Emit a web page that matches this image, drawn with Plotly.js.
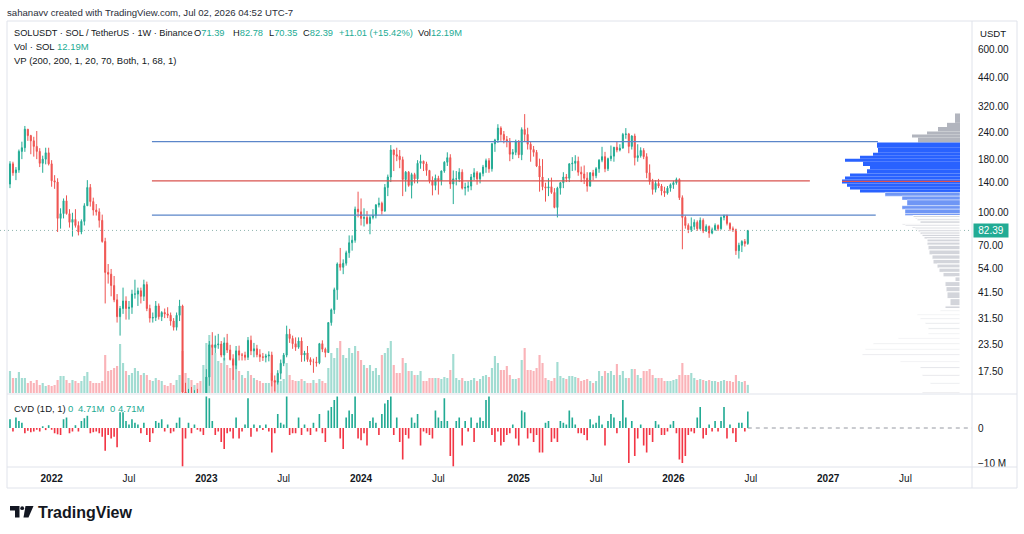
<!DOCTYPE html>
<html>
<head>
<meta charset="utf-8">
<script src="https://cdn.plot.ly/plotly-3.0.1.min.js"></script>
<style>
html,body{margin:0;padding:0;background:#ffffff;}
#chart{width:1024px;height:534px;}
</style>
</head>
<body>
<div id="chart"></div>
<script>
// ---------------- DATA (weekly SOLUSDT, Binance) ----------------
const firstWeek = '2021-09-27';
const firstOpen = 137;
const closes = [171,155,160,196,204,250,233,220,207,196,
172,180,193,171,142,140,94,99,114,99,
90,93,87,81,91,108,132,113,103,101,
92,73,52,51,45,38.5,32,35,38,35,
35.5,41,41,42.5,40,45.5,35,31.5,31.7,36,
32,33.5,33,32.5,30.5,28.5,32.5,36,14,12.8,
13.7,13.3,13.7,11.4,9.9,10,16.5,23.5,22.8,23.5,
23.7,21,24,22.2,20,18.8,22,21,21,20.5,
24.7,22,22.5,21.1,20.6,20.5,20.8,21,15.9,15.6,
17.2,19.2,21,26.4,25.2,23.8,22.9,24.5,21,21.5,
20,19.5,19.5,19.3,23.8,22.4,21.6,30,34.5,43,
57,55,57.5,64.5,72,74,104,101,94,95,
89,95,97,109,111,102,132,148,199,189,
186,179,144,156,135,152,145,172,176,171,
159,142,135,146,142,158,174,183,137,145,
145,156,131,132,134,148,155,145,154,165,
177,162,213,222,253,236,223,219,190,194,
218,189,249,236,212,200,194,167,148,133,
131,133,125,106,131,139,148,146,171,172,
176,156,153,146,134,155,150,162,178,185,
162,181,186,205,199,203,236,237,207,232,
183,187,198,185,155,141,129,138,134,127,
124,131,136,139,144,118,95,87,83,86,
90,84,92,82,86,80,83,87,84,95,
97,89,84,83,66,70,73,71.39,82.39];
const highs = [176,175,165,200,218,259,250,235,230,245,
203,187,204,204,178,151,146,105,117,121,
104,100,104,91,93,111,143,137,118,110,
105,98,76,57,54,50,41,36,44,40,
38,43,48,44,44,48,47,36.5,33.5,38,
37,34,35,35.5,33.5,31.5,33.5,38.5,36.5,15.5,
14.5,14.8,14.3,14.5,12.2,11.6,18,24.5,27,26,
26.5,24.5,25.5,26.5,23.5,21.2,23.2,23.3,21.5,21.8,
25.6,26,24,23.5,22.4,21.5,21.3,21.9,21.8,16.8,
17.8,20,21.5,29,28,26,25.5,25.5,25.5,22,
23.2,20.5,20.2,20.6,24,24.7,22.8,30,35,44,
58,68,60,66,78,78,107,126,117,105,
102,97,104,110,118,113,137,152,210,200,
204,199,185,158,158,155,155,178,189,177,
175,160,149,152,150,159,176,194,190,159,
158,163,161,139,141,153,163,158,156,169,
181,182,215,225,264,258,245,232,227,201,
223,222,255,295,254,218,208,199,181,180,
139,146,147,131,133,140,156,153,172,184,
188,185,166,168,156,156,160,165,180,206,
195,183,209,206,218,212,240,253,240,234,
238,212,205,203,192,170,145,143,145,137,
133,134,138,142,147,146,121,97,89,95,
93,92,95,94,88,87,85,89,88,96,
98,98,90,86,84,72,74,75,82.78];
const lows = [131,150,143,155,180,195,220,190,185,180,
165,155,170,168,133,130,81,84,94,98,
85,77,85,78,79,87,108,107,97,97,
85,72,37,46,40,37.5,30,26,33,31,
31,33,39,36,37,38,34,30,30,30.5,
31,30.5,31.5,31.5,29,27.5,27.5,30.5,11,12.5,
11.5,12.8,12.8,11,9.6,8,9.7,15,21,21.5,
22.5,20.5,19.8,21.5,19.8,16,18,19.8,19.8,19.8,
19.9,21,20.5,20.5,19.5,19.7,19.4,19.6,14.9,14.1,
15.2,16.1,18.6,20.5,24,22.5,22,22.5,19.5,19.6,
19.5,18.8,17.3,18.5,19,21.7,20.5,21.5,29,33,
38.5,53,51,56,61,66,72,95,87,86,
88,79,93,94,106,98,101,120,140,158,
176,163,120,126,133,117,138,138,162,158,
150,138,121,128,122,135,155,167,130,110,
135,140,129,121,126,128,143,136,138,149,
155,155,157,195,215,220,214,205,176,180,
188,182,178,218,200,175,185,165,126,128,
113,120,123,105,95,122,131,140,140,158,
159,150,140,137,126,133,143,146,155,174,
156,158,176,175,194,196,203,225,192,200,
168,175,183,180,146,136,122,125,131,121,
119,122,126,130,136,115,67,84,80,81,
83,82,83,80,81,76,79,82,82,83,
92,87,82,81,63,60.5,65,69,70.35];
// weekly volume, millions of SOL
const volumes = [33,22.5,22.5,31.5,22.5,22.5,15,18,15,19.5,
12,15,10.5,12,10.5,12,19.5,25.5,25.5,19.5,
15,19.5,18,15,18,25.5,31.5,18,15,15,
15,18,57,33,34.5,37.5,40.5,73.5,45,33,
27,30,37.5,33,27,30,27,19.5,18,22.5,
19.5,18,12,10.5,15,12,19.5,27,63,30,
22.5,19.5,12,15,18,42,75,87,67.5,60,
48,45,52.5,42,37.5,52.5,42,33,27,22.5,
33,27,22.5,19.5,18,15,15,15,30,18,
18,18,21,45,27,19.5,18,18,21,18,
15,15,19.5,15,21,18,15,37.5,60,52.5,
67.5,78,57,52.5,67.5,60,70.5,63,49.5,42,
37.5,42,33,37.5,27,57,60,67.5,78,42,
30,30,52.5,45,33,33,27,27,33,18,
18,22.5,22.5,22.5,22.5,21,24,22.5,34.5,58.5,
22.5,19.5,22.5,18,18,19.5,22.5,18,21,25.5,
27,24,37.5,55.5,45,34.5,34.5,40.5,27,21,
21,22.5,49.5,67.5,34.5,34.5,33,37.5,57,45,
22.5,19.5,18,22.5,46.5,25.5,22.5,21,25.5,25.5,
24,22.5,18,19.5,21,18,15,18,33,25.5,
33,30,33,27,43.5,27,33,22.5,22.5,36,
36,27,22.5,33,33,36,27,22.5,22.5,22.5,
18,18,18,19.5,21,27,45,27,27,30,
22.5,19.5,21,19.5,18,19.5,18,18,16.5,18,
19.5,18,18,16.5,27,18,16.5,18,12.19];
// cumulative volume delta per week, millions
const cvd = [2.5,-1,3,2,1.5,-1.5,-0.8,-1.2,-1,-0.5,
-1,0.5,-0.6,0.8,-0.5,-1.5,-1.8,-2,2.5,3,
-1.5,-1,0.8,-1,2,2.8,3.5,-1.5,-1.2,-1,
-1.5,-2.5,-6.5,-2,-3,-2.5,-5.5,4.5,4.5,2,
1,2.5,1.5,1,-1.5,1.5,-2,-4,-1.5,2,
1.5,2.5,-1,1,-1.5,-1,1.5,3,-11,-3,
1.5,-1.5,1,-0.5,-1,-2,9,8.5,2,-2,
-1,-4,-6,-1.5,-1,-3,3,-3,-1,1,
8.5,-2.5,1,-1,0.8,-0.6,1,-1,-7,-1.5,
4,1.5,1,9,-2,-1.5,-1.5,3,-2,1,
-1,-2,1.5,-1,4,-1.5,-4,5,6,8,
9,-3,-6,3,5,4,9,-3,-3.5,-1.5,
-5,2,3,1.5,-2,4,7,8,9,-2,
3,-4,-9,-2,-3,3,1.5,4,-5,-1,
-1.5,-2,-3,5,3,2,8.5,2,-8,-11,
2,3,-5,2,-1,3,-4,1.5,3,2,
8,9,-2,-4,-1,-5,-4,-2,-1.5,1,
-3,-5,5,4.5,-3,-1.5,-4,-2,-7,-7,
1.5,2,-4,-3,-4,2,1.5,1,5,3,
1,-1.5,-1.5,-2,-3.5,2.5,1,1.5,3.5,1,
-5,2,4,3,-1.5,2,8,3,-10,2,
-8,-3,1,-5,-7,-2,-4,2,1,-2,
-2,-1,1,2,-1.5,-9,-10,-8,-2,-1,
-1.5,3,6,-3,-2,1,-1,2,-1,2,
6,-3,1,-1.5,-4,1.5,1.5,-1,4.71];
// horizontal level drawings
const levelPrices = [218, 142, 97.5];
const levelStart = '2022-08-27';
const levelEnds = ['2027-05-01', '2026-11-22', '2027-04-26'];
// volume profile rows: price low, price high, volume, zone (0 above VA, 1 VA strong, 2 VA light, 3 below VA)
const vpLow  = [268,256,244,236,228,216,204,193,187,181,175,167,161,154,149,144,138,133,129,125,
120,115,108,104,99,97,
95,93.5,91.5,89,87.5,86,84.5,83,81,79,77,75,72.5,70,66.5,63,60,57,54.5,52,49.5,47,44.5,42,39,36,35,
34.0,32.5,31.1,29.5,27.9,26.3,25.1,23.65,22.25,20.95,19.35,18.15,16.68,15.3,13.8];
const vpHigh = [297,268,256,244,236,228,216,204,193,187,181,175,167,161,154,149,144,138,133,129,
125,120,115,108,104,99,
97,95,93.5,91.5,89,87.5,86,84.5,83,81,79,77,75,72.5,70,66.5,63,60,57,54.5,52,49.5,47,44.5,42,39,36,
34.4,32.9,31.5,29.9,28.3,26.7,25.45,23.95,22.55,21.25,19.65,18.45,16.92,15.5,14.0];
const vpVolume = [5,13,22,33,48,42,83,82,87,100,115,97,90,93,110,115,118,113,110,100,
75,58,53,58,55,55,
47,45,43,40,58,55,48,45,42,40,38,36,33,33,32,31,28,27,23,21,17,5,15,14,13,10,15,
20,43,40,35,32,32,62,87,95,98,60,40,38,30,38];
const vpZone = [0,0,0,0,0,0,1,1,1,1,1,1,1,1,1,1,1,1,1,1,
2,2,2,2,2,2,
3,3,3,3,3,3,3,3,3,3,3,3,3,3,3,3,3,3,3,3,3,3,3,3,3,3,3,
3,3,3,3,3,3,3,3,3,3,3,3,3,3,3];
// axis ticks
const xTickDates = ['2022-01-03','2022-07-04','2023-01-02','2023-07-03','2024-01-01','2024-07-01',
  '2025-01-06','2025-07-07','2026-01-05','2026-07-06','2027-01-04','2027-07-05'];
const xTickLabels = ['2022','Jul','2023','Jul','2024','Jul','2025','Jul','2026','Jul','2027','Jul'];
const priceTicks = [600,440,320,240,180,140,100,70,54,41.5,31.5,23.5,17.5];
const cvdTicks = [0,-10];
const cvdTickLabels = ['0','\u221210 M'];

// ---------------- BUILD ----------------
const W = 1024, H = 534;
const GREEN = '#22ab94', RED = '#f23645';
const TXT = '#131722';
const FONT = 'Liberation Sans, Arial, Helvetica, sans-serif';
const DAY = 86400000, WEEK = 7*DAY;
const t0 = Date.parse(firstWeek + 'T00:00:00Z');
const dates = closes.map((_, i) => new Date(t0 + i*WEEK).toISOString().slice(0,10));
const opens = closes.map((c, i) => i === 0 ? firstOpen : closes[i-1]);
const isUp = closes.map((c, i) => c >= opens[i]);
const lastClose = closes[closes.length-1];

const xRange = ['2021-09-03 12:00', '2027-12-08 12:00'];
const priceLo = 13.86, priceHi = 818.6;
const py = p => 1 - p / H;          // pixel row -> paper
const px = p => p / W;              // pixel column -> paper
const xDomEnd = 972 / W;
const priceDomain = [py(393), py(21)];
const cvdDomain = [py(467), py(395)];

const traces = [];
// volume (base axis y)
traces.push({
  type: 'bar', x: dates, y: volumes, xaxis: 'x', yaxis: 'y',
  width: 0.72*WEEK,
  marker: {color: isUp.map(u => u ? 'rgba(34,171,148,0.42)' : 'rgba(242,54,69,0.38)'), line: {width: 0}},
  hoverinfo: 'skip'
});
// candles (log price axis y2)
traces.push({
  type: 'candlestick', x: dates, open: opens, high: highs, low: lows, close: closes,
  xaxis: 'x', yaxis: 'y2', whiskerwidth: 0,
  increasing: {line: {color: GREEN, width: 1}, fillcolor: GREEN},
  decreasing: {line: {color: '#ef5350', width: 1}, fillcolor: '#ef5350'},
  hoverinfo: 'skip'
});
// level lines
const levelColors = ['#5b86c9', '#d9534f', '#5b86c9'];
levelPrices.forEach((p, k) => {
  traces.push({type: 'scatter', mode: 'lines', x: [levelStart, levelEnds[k]], y: [p, p],
    xaxis: 'x', yaxis: 'y2', line: {color: levelColors[k], width: 1.2}, hoverinfo: 'skip'});
});
// last price dotted line
traces.push({type: 'scatter', mode: 'lines', x: xRange, y: [lastClose, lastClose],
  xaxis: 'x', yaxis: 'y2', line: {color: '#8fb5b0', width: 1, dash: '1px,3px'}, hoverinfo: 'skip'});
// CVD bars
traces.push({
  type: 'bar', x: dates, y: cvd, xaxis: 'x', yaxis: 'y3', width: 0.55*WEEK,
  marker: {color: cvd.map(v => v >= 0 ? GREEN : RED), line: {width: 0}}, hoverinfo: 'skip'
});
traces.push({type: 'scatter', mode: 'lines', x: [dates[dates.length-1], xRange[1]], y: [0, 0],
  xaxis: 'x', yaxis: 'y3', line: {color: '#9598a1', width: 1, dash: '4px,4px'}, hoverinfo: 'skip'});
// volume profile (log10 price on a linear overlay axis)
const zoneColors = ['#b2b5be', '#2962ff', '#6f96f5', '#d3d5db'];
const zoneGap = [0, 0, 0.4, 1];
const vpCenter = vpLow.map((lo, k) => (Math.log10(lo) + Math.log10(vpHigh[k])) / 2);
const vpThick = vpLow.map((lo, k) => Math.log10(vpHigh[k]) - Math.log10(lo));
traces.push({
  type: 'bar', orientation: 'h', x: vpVolume, y: vpCenter, width: vpThick,
  xaxis: 'x2', yaxis: 'y4',
  marker: {color: vpZone.map(z => zoneColors[z]),
           line: {color: '#ffffff', width: vpZone.map(z => zoneGap[z])}}, hoverinfo: 'skip'
});
const pocIdx = vpVolume.indexOf(Math.max(...vpVolume));
traces.push({type: 'scatter', mode: 'lines', x: [0, vpVolume[pocIdx]], y: [vpCenter[pocIdx], vpCenter[pocIdx]],
  xaxis: 'x2', yaxis: 'y4', line: {color: '#e0524f', width: 1.2}, hoverinfo: 'skip'});

// ---------------- ANNOTATIONS ----------------
const ann = [];
function T(x, y, text, size, color, extra) {
  ann.push(Object.assign({xref: 'paper', yref: 'paper', x: px(x), y: py(y), text: text,
    showarrow: false, xanchor: 'left', yanchor: 'middle', borderpad: 0,
    font: {family: FONT, size: size || 9.5, color: color || TXT}}, extra || {}));
}
const teal = s => '<span style="color:' + GREEN + '">' + s + '</span>';
T(6, 13, 'sahanavv created with TradingView.com, Jul 02, 2026 04:52 UTC-7', 9.6, '#2a2e39');
T(13, 33, 'SOLUSDT \u00b7 SOL / TetherUS \u00b7 1W \u00b7 Binance', 9.2);
T(193, 33, 'O' + teal(opens[opens.length-1].toFixed(2)), 9.3);
T(232, 33, 'H' + teal(highs[highs.length-1].toFixed(2)), 9.3);
T(268, 33, 'L' + teal(lows[lows.length-1].toFixed(2)), 9.3);
T(302, 33, 'C' + teal(lastClose.toFixed(2)), 9.3);
T(338, 33, teal('+11.01 (+15.42%)'), 9.3);
T(417, 33, 'Vol' + teal(volumes[volumes.length-1].toFixed(2) + 'M'), 9.3);
T(13, 47, 'Vol \u00b7 SOL');
T(56, 47, teal(volumes[volumes.length-1].toFixed(2) + 'M'));
T(13, 60, 'VP (200, 200, 1, 20, 70, Both, 1, 68, 1)');
T(13, 408, 'CVD (1D, 1)');
T(67, 408, teal('0'));
T(77, 408, teal('4.71M'));
T(109, 408, teal('0'));
T(117, 408, teal('4.71M'));
T(993, 33, 'USDT', 9.6, TXT, {xanchor: 'center'});
T(37, 512, '<b>TradingView</b>', 16, TXT);
ann.push({xref: 'paper', yref: 'y2', x: px(973), y: Math.log10(lastClose), xanchor: 'left', yanchor: 'middle',
  text: lastClose.toFixed(2), showarrow: false, bgcolor: '#22ab94', width: 34, height: 13, borderpad: 0,
  font: {family: FONT, size: 10, color: '#ffffff'}});

// ---------------- SHAPES ----------------
const line = (x0, y0, x1, y1, color) => ({type: 'line', xref: 'paper', yref: 'paper',
  x0: px(x0), y0: py(y0), x1: px(x1), y1: py(y1), line: {color: color || '#e0e3eb', width: 1}});
const P = (x, y) => px(x) + ',' + py(y);
const shapes = [
  {type: 'rect', xref: 'paper', yref: 'paper', x0: px(7), x1: px(1017), y0: py(488), y1: py(21),
   line: {color: '#e0e3eb', width: 1}, fillcolor: 'rgba(0,0,0,0)'},
  line(972, 21, 972, 488),
  line(7, 394, 1017, 394),
  line(7, 467, 1017, 467),
  {type: 'path', xref: 'paper', yref: 'paper', path: 'M' + P(10,506) + 'L' + P(19.5,506) + 'L' + P(19.5,517.5) + 'L' + P(15,517.5) + 'L' + P(15,510.5) + 'L' + P(10,510.5) + 'Z',
   fillcolor: TXT, line: {width: 0}},
  {type: 'circle', xref: 'paper', yref: 'paper', x0: px(20.3), x1: px(24.1), y0: py(510.1), y1: py(506.3),
   fillcolor: TXT, line: {width: 0}},
  {type: 'path', xref: 'paper', yref: 'paper', path: 'M' + P(25.5,506) + 'L' + P(33.5,506) + 'L' + P(28.5,517.5) + 'L' + P(23.5,517.5) + 'Z',
   fillcolor: TXT, line: {width: 0}}
];

const tickText = xTickLabels.map(s => s === 'Jul' ? s : '<b>' + s + '</b>');

const layout = {
  width: W, height: H,
  margin: {l: 0, r: 0, t: 0, b: 0, pad: 0},
  paper_bgcolor: '#ffffff', plot_bgcolor: 'rgba(0,0,0,0)',
  showlegend: false, boxgap: 0.5, barmode: 'overlay',
  font: {family: FONT, size: 10, color: TXT},
  xaxis: {domain: [0, xDomEnd], type: 'date', range: xRange, anchor: 'y3',
    showgrid: false, zeroline: false, showline: false, ticks: '',
    tickmode: 'array', tickvals: xTickDates, ticktext: tickText,
    tickfont: {family: FONT, size: 10, color: TXT}, ticklabelstandoff: 4,
    rangeslider: {visible: false}, fixedrange: true, automargin: false},
  yaxis: {domain: priceDomain, range: [0, 558], visible: false, fixedrange: true, anchor: 'x'},
  yaxis2: {domain: priceDomain, type: 'log', range: [Math.log10(priceLo), Math.log10(priceHi)],
    overlaying: 'y', side: 'right', anchor: 'x', showgrid: false, zeroline: false, showline: false,
    ticks: '', tickmode: 'array', tickvals: priceTicks, ticktext: priceTicks.map(v => v.toFixed(2)),
    tickfont: {family: FONT, size: 10, color: TXT}, ticklabelstandoff: 5, fixedrange: true, automargin: false},
  yaxis3: {domain: cvdDomain, range: [-11.14, 9.43], side: 'right', anchor: 'x',
    showgrid: false, zeroline: false, showline: false, ticks: '',
    tickmode: 'array', tickvals: cvdTicks, ticktext: cvdTickLabels,
    tickfont: {family: FONT, size: 10, color: TXT}, ticklabelstandoff: 5, fixedrange: true, automargin: false},
  xaxis2: {domain: [0, xDomEnd], range: [960, -12], anchor: 'y4', visible: false, fixedrange: true},
  yaxis4: {domain: priceDomain, range: [Math.log10(priceLo), Math.log10(priceHi)], anchor: 'x2',
    visible: false, fixedrange: true},
  annotations: ann,
  shapes: shapes
};

Plotly.newPlot('chart', traces, layout, {staticPlot: true, displayModeBar: false});
</script>
</body>
</html>
